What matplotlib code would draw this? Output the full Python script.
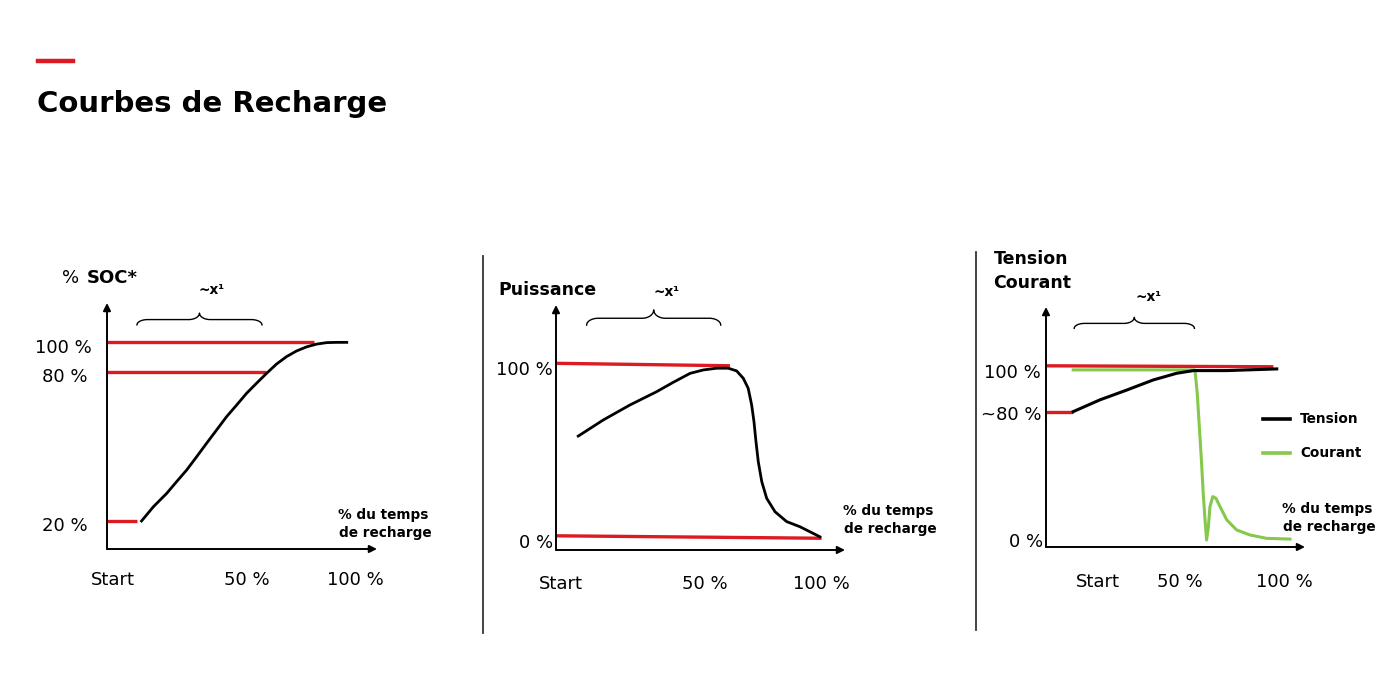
import numpy as np
import matplotlib
matplotlib.use("Agg")
import matplotlib.pyplot as plt
from matplotlib.lines import Line2D

plt.rcParams['font.family'] = ['DejaVu Sans']

W, H = 1400, 694
RED = '#dc1a22'
GREEN = '#86c84b'

# --- données (en % de la longueur des axes dessinés) ---
# Panneau 1 : % SOC
soc_x = [12.8, 17.2, 22.1, 25.8, 29.5, 33.2, 36.9, 40.6, 44.3, 48.0, 51.7,
         55.4, 59.1, 62.8, 66.5, 70.2, 74.0, 77.7, 81.4, 85.0, 88.8]
soc_y = [11.4, 17.2, 22.6, 27.4, 32.1, 37.5, 43.0, 48.4, 53.8, 58.5, 63.3,
         67.4, 71.4, 75.2, 78.2, 80.5, 82.2, 83.3, 83.9, 84.0, 84.0]
soc_ref_y = [84.1, 72.0, 11.4]
soc_ref_end = [76.7, 58.9, 11.1]
soc_ylabels = ['100 %', '80 %', '20 %']

# Panneau 2 : Puissance
pw_x = [7.7, 16.4, 25.6, 34.8, 40.5, 46.4, 51.0, 55.6, 59.6, 62.5, 64.8,
        66.5, 67.7, 68.5, 69.2, 70.0, 71.2, 72.9, 75.8, 79.8, 84.4, 91.3]
pw_y = [46.5, 53.1, 59.2, 64.6, 68.4, 72.1, 73.5, 74.2, 74.2, 73.1, 70.1,
        66.0, 59.2, 52.4, 44.2, 36.0, 27.9, 21.1, 15.6, 11.6, 9.5, 5.4]
pw_ref = [((0, 60.2), (76.2, 75.2)), ((0, 91.9), (5.8, 4.8))]
pw_ylabels = ['100 %', '0 %']

# Panneau 3 : Tension / Courant
ten_x = [10.5, 20.8, 31.2, 41.4, 50.5, 56.9, 69.8, 89.1]
ten_y = [56.4, 61.3, 65.4, 69.6, 72.4, 73.5, 73.5, 74.2]
cou_x = [10.5, 57.5, 58.4, 59.2, 60.0, 60.7, 61.4, 62.0, 62.7, 63.3, 64.4,
         65.6, 67.2, 69.8, 73.6, 78.8, 85.2, 94.2]
cou_y = [73.8, 73.8, 64.0, 50.1, 36.3, 22.4, 11.3, 2.9, 8.5, 16.8, 21.0,
         20.3, 16.8, 11.3, 7.1, 5.0, 3.6, 3.3]
tc_ref = [((0, 87.8), (75.5, 75.1)), ((0, 10.5), (56.4, 56.4))]
tc_ylabels = ['100 %', '~80 %', '0 %']

xticks = ['Start', '50 %', '100 %']

FS = 13      # texte normal
FSB = 9.8    # petit texte gras


def panel(left, right, top, bottom):
    ax = fig.add_axes([left / W, (H - bottom) / H, (right - left) / W, (bottom - top) / H])
    ax.set_xlim(0, 100)
    ax.set_ylim(0, 100)
    ax.axis('off')
    ap = dict(arrowstyle='-|>', color='black', lw=1.4, mutation_scale=11, shrinkA=0, shrinkB=0)
    ax.annotate('', xy=(100, 0), xytext=(0, 0), arrowprops=ap, annotation_clip=False)
    ax.annotate('', xy=(0, 100), xytext=(0, 0), arrowprops=ap, annotation_clip=False)
    return ax


def brace(ax, x0, x1, y_end, y_tip):
    xm = (x0 + x1) / 2
    ym = y_end + (y_tip - y_end) * 0.45
    r = 4.0
    t = np.linspace(0, np.pi / 2, 20)
    a1x = x0 + r * (1 - np.cos(t)); a1y = y_end + (ym - y_end) * np.sin(t)
    a2x = xm - r + r * np.sin(t); a2y = ym + (y_tip - ym) * (1 - np.cos(t))
    bx = np.concatenate([a1x, a2x, (2 * xm - a2x)[::-1], (2 * xm - a1x)[::-1]])
    by = np.concatenate([a1y, a2y, a2y[::-1], a1y[::-1]])
    ax.plot(bx, by, color='black', lw=1.0, clip_on=False)


def xlabels(ax, pos, y):
    for p, lab in zip(pos, xticks):
        ax.text(p, y, lab, ha='center', va='center', fontsize=FS, clip_on=False)


def temps(ax, x, y):
    ax.text(x, y, '% du temps', ha='right', va='center', fontsize=FSB, fontweight='bold')
    ax.text(x + 1.2, y - 7.5, 'de recharge', ha='right', va='center', fontsize=FSB, fontweight='bold')


fig = plt.figure(figsize=(W / 100, H / 100), dpi=100)

# titre
fig.add_artist(Line2D([38 / W, 73 / W], [1 - 61 / H] * 2, lw=3.2, color=RED, transform=fig.transFigure))
fig.text(37 / W, 1 - 112 / H, 'Courbes de Recharge', fontsize=21, fontweight='bold', va='baseline', ha='left')

# séparateurs
fig.add_artist(Line2D([483 / W] * 2, [1 - 256 / H, 1 - 633 / H], lw=1.3, color='#333333', transform=fig.transFigure))
fig.add_artist(Line2D([976 / W] * 2, [1 - 252 / H, 1 - 630 / H], lw=1.3, color='#333333', transform=fig.transFigure))

# --- panneau 1 ---
ax1 = panel(107, 377, 303, 549)
for yv, xe in zip(soc_ref_y, soc_ref_end):
    ax1.plot([0, xe], [yv, yv], color=RED, lw=2.4, solid_capstyle='butt')
ax1.plot(soc_x, soc_y, color='black', lw=2.0)
for yv, lab, dx in zip(soc_ref_y, soc_ylabels, [-5.5, -7.4, -7.0]):
    ax1.text(dx, yv - 2.2, lab, ha='right', va='center', fontsize=FS)
ax1.text(-16.5, 110.2, '%', ha='left', va='center', fontsize=FS)
ax1.text(-7.6, 110.2, 'SOC*', ha='left', va='center', fontsize=FS, fontweight='bold', clip_on=False)
ax1.text(38.9, 105.2, '~x¹', ha='center', va='center', fontsize=FSB, fontweight='bold')
brace(ax1, 11.1, 57.4, 91.1, 95.9)
xlabels(ax1, [2.2, 51.9, 91.9], -12.8)
temps(ax1, 119.0, 14.0)

# --- panneau 2 ---
ax2 = panel(556, 845, 305, 550)
for (xs, ys) in pw_ref:
    ax2.plot(xs, ys, color=RED, lw=2.4, solid_capstyle='butt')
ax2.plot(pw_x, pw_y, color='black', lw=2.0)
for yv, lab in zip([73.5, 2.7], pw_ylabels):
    ax2.text(-1.0, yv, lab, ha='right', va='center', fontsize=FS)
ax2.text(-20.0, 106.1, 'Puissance', ha='left', va='center', fontsize=12.5, fontweight='bold')
ax2.text(38.3, 105.4, '~x¹', ha='center', va='center', fontsize=FSB, fontweight='bold')
brace(ax2, 10.6, 57.0, 91.8, 98.0)
xlabels(ax2, [1.6, 51.6, 91.9], -14.0)
temps(ax2, 130.5, 16.1)

# --- panneau 3 ---
ax3 = panel(1046, 1305, 307, 547)
for (xs, ys) in tc_ref:
    ax3.plot(xs, ys, color=RED, lw=2.4, solid_capstyle='butt')
ax3.plot(cou_x, cou_y, color=GREEN, lw=2.2)
ax3.plot(ten_x, ten_y, color='black', lw=2.2)
for yv, lab, dx in zip([72.4, 55.0, 2.2], tc_ylabels, [-1.9, -1.9, -1.0]):
    ax3.text(dx, yv, lab, ha='right', va='center', fontsize=FS)
ax3.text(-20.3, 120.0, 'Tension', ha='left', va='center', fontsize=12.5, fontweight='bold')
ax3.text(-20.3, 109.9, 'Courant', ha='left', va='center', fontsize=12.5, fontweight='bold')
ax3.text(39.5, 104.2, '~x¹', ha='center', va='center', fontsize=FSB, fontweight='bold')
brace(ax3, 10.9, 57.3, 91.1, 95.7)
xlabels(ax3, [20.0, 51.7, 91.9], -14.7)
temps(ax3, 126.0, 15.7)
# légende
for yv, col, lab in [(53.3, 'black', 'Tension'), (39.3, GREEN, 'Courant')]:
    ax3.plot([83.8, 94.2], [yv, yv], color=col, lw=2.6, clip_on=False)
    ax3.text(98.1, yv, lab, ha='left', va='center', fontsize=FSB, fontweight='bold')

fig.savefig('out.png', dpi=100)
